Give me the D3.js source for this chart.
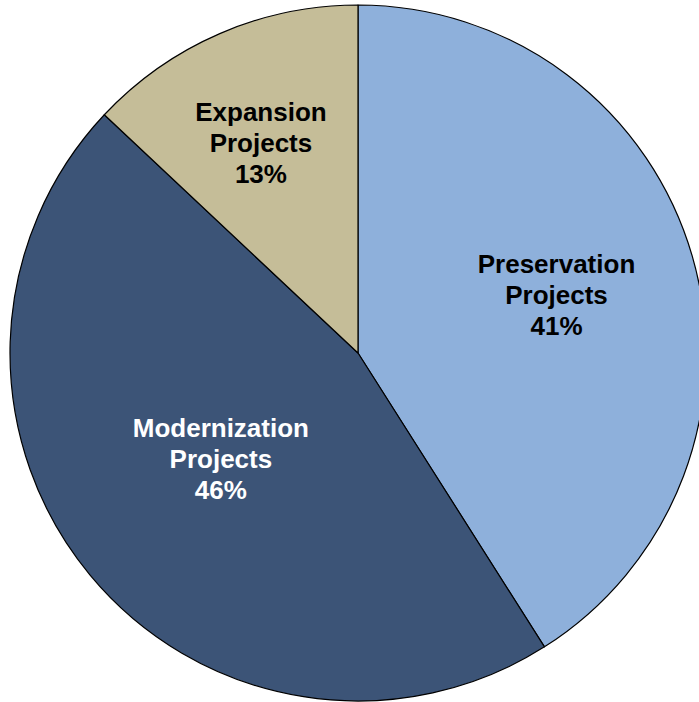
<!DOCTYPE html>
<html>
<head>
<meta charset="utf-8">
<script src="https://cdn.jsdelivr.net/npm/d3@7"></script>
<style>
  html, body { margin: 0; padding: 0; background: #ffffff; }
  svg { display: block; }
</style>
</head>
<body>
<svg id="chart" width="699" height="702"></svg>
<script>
// Project categories and their share of the program (%)
const categories = ["Preservation", "Modernization", "Expansion"];
const shares = [41, 46, 13];
const lineTwo = ["Projects", "Projects", "Projects"];
const fills = ["#8EB0DB", "#3C5477", "#C5BD98"];
const textColors = ["#000000", "#ffffff", "#000000"];

const svg = d3.select("#chart");
const cx = 358, cy = 353, R = 348;

const g = svg.append("g").attr("transform", `translate(${cx},${cy})`);

const pie = d3.pie().sort(null).value(d => d.value);
const data = categories.map((c, i) => ({ name: c, value: shares[i], i }));
const arcs = pie(data);

const arc = d3.arc().innerRadius(0).outerRadius(R);

g.selectAll("path.slice")
  .data(arcs)
  .join("path")
  .attr("class", "slice")
  .attr("d", arc)
  .attr("fill", d => fills[d.data.i])
  .attr("stroke", "#000")
  .attr("stroke-width", 1.2)
  .attr("stroke-linejoin", "round");

// label placement per slice: distance as a fraction of the radius,
// and a small angular nudge (degrees) away from the slice's mid-angle
const labelFrac = [0.594, 0.498, 0.665];
const labelNudge = [0, 1.9, -1.4];
const lineH = 31;
const fontSize = 26;

const labels = g.selectAll("text.lbl")
  .data(arcs)
  .join("text")
  .attr("class", "lbl")
  .attr("text-anchor", "middle")
  .attr("font-family", "'Liberation Sans', Arial, sans-serif")
  .attr("font-weight", "bold")
  .attr("font-size", fontSize)
  .attr("fill", d => textColors[d.data.i])
  .attr("transform", d => {
    const a = (d.startAngle + d.endAngle) / 2 + labelNudge[d.data.i] * Math.PI / 180;
    const r = R * labelFrac[d.data.i];
    return `translate(${r * Math.sin(a)},${-r * Math.cos(a)})`;
  });

labels.each(function(d) {
  const t = d3.select(this);
  const lines = [d.data.name, lineTwo[d.data.i], d.data.value + "%"];
  lines.forEach((s, k) => {
    t.append("tspan")
      .attr("x", 0)
      .attr("y", (k - 1) * lineH + 9)
      .text(s);
  });
});
</script>
</body>
</html>
